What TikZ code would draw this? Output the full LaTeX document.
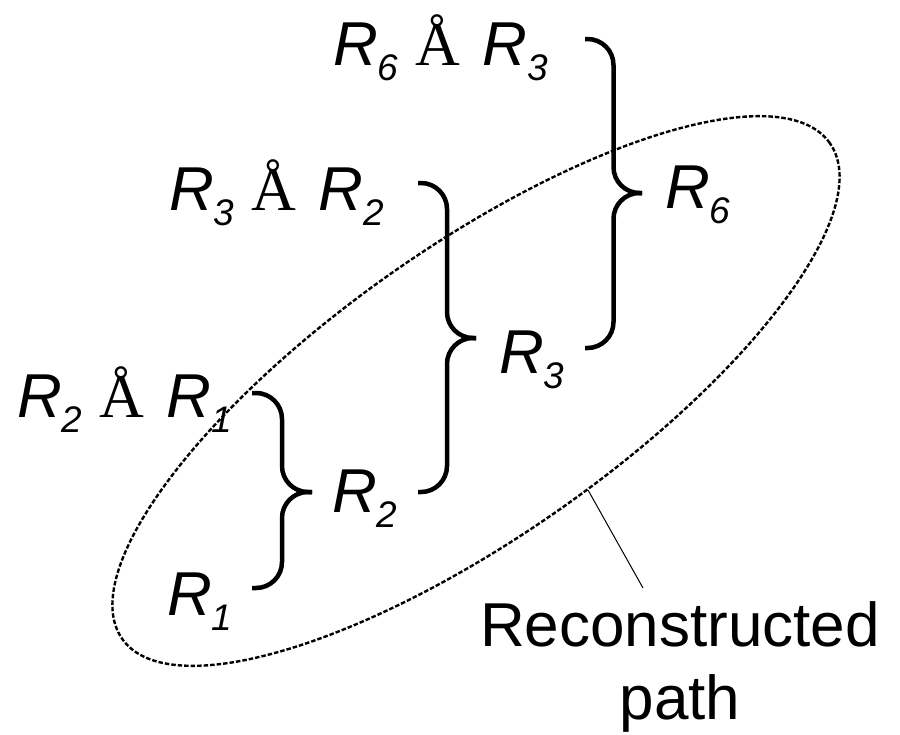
\documentclass[tikz,border=0pt]{standalone}
\usepackage{fontspec}
\setmainfont{Liberation Sans}
\newfontfamily\plusfont{Liberation Serif}
\usetikzlibrary{positioning}

% index lowered below the R
\newcommand{\idx}[1]{\raisebox{-15pt}{\fontsize{37}{37}\selectfont #1}}
% the joining sign between two terms
\newcommand{\join}{{\plusfont\upshape Å}\hspace{22pt}}
% right curly brace: x start, x tip, y top, y tip, y bottom
\newcommand{\curly}[5]{%
  \draw[bracepath] (#1,#3) -- ({(#1+#2)/2},#3) -- ({(#1+#2)/2},#4) -- (#2,#4);
  \draw[bracepath] (#2,#4) -- ({(#1+#2)/2},#4) -- ({(#1+#2)/2},#5) -- (#1,#5);}

\tikzset{
  term/.style={font=\fontsize{62}{74}\selectfont\itshape, inner sep=0pt, anchor=base west},
  caption/.style={font=\fontsize{62}{73}\selectfont, align=center, inner sep=0pt},
  bracepath/.style={line width=4.5pt, rounded corners=26pt},
  trace/.style={dash pattern=on 4.5pt off 2pt, line width=2.4pt},
}

\begin{document}
\begin{tikzpicture}[x=1pt, y=-1pt]
  \useasboundingbox (0,0) rectangle (900,734);

  % reconstructed path
  \draw[trace, rotate around={35:(476,391)}] (476,391) ellipse [x radius=432pt, y radius=145pt];

  \node[term] (sum63) at (333,65) {R\idx{6} \join R\idx{3}};
  \node[term] (sum32) at (169,210) {R\idx{3} \join R\idx{2}};
  \node[term] (sum21) at (17,417) {R\idx{2} \join R\idx{1}};
  \node[term] (r6) at (665,208) {R\idx{6}};
  \node[term] (r3) at (499,373) {R\idx{3}};
  \node[term] (r2) at (332,512) {R\idx{2}};
  \node[term] (r1) at (167,615) {R\idx{1}};

  \curly{585}{642}{39}{193}{348}
  \curly{418}{476}{183}{338}{492}
  \curly{252}{312}{393}{492}{588}

  \node[caption, anchor=north] (recpath) at (680,601) {Reconstructed\\path};
  \coordinate (tick) at (588,490);
  \coordinate (tail) at (643,588);
  \draw[line width=1pt] (tick) -- (tail);
\end{tikzpicture}
\end{document}
